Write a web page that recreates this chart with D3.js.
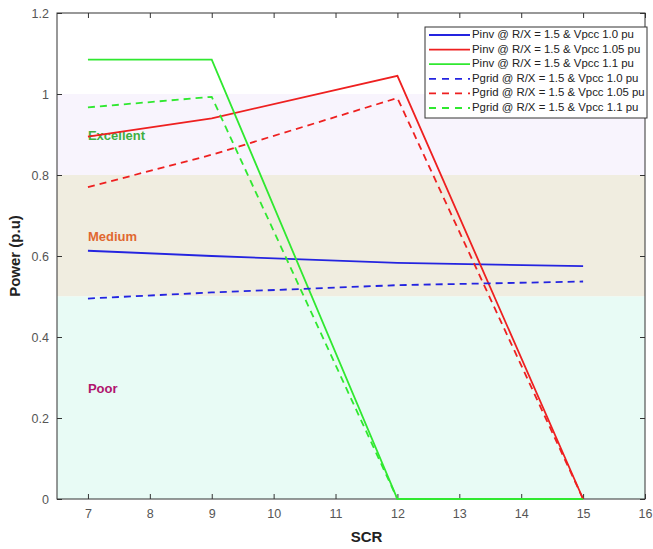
<!DOCTYPE html>
<html>
<head>
<meta charset="utf-8">
<script src="https://cdn.jsdelivr.net/npm/d3@7"></script>
<style>
  body { margin: 0; background: #fff; }
  text { font-family: Arial, "Liberation Sans", sans-serif; }
</style>
</head>
<body>
<svg id="chart"></svg>
<script>
const width = 653;
const height = 549;

// data
const scr = [7, 9, 12, 15];
const pinv10 = [0.613, 0.600, 0.583, 0.575];
const pinv105 = [0.895, 0.940, 1.045, 0];
const pinv11 = [1.085, 1.085, 0, 0];
const pgrid10 = [0.495, 0.510, 0.528, 0.537];
const pgrid105 = [0.770, 0.850, 0.990, 0];
const pgrid11 = [0.967, 0.993, 0, 0];

const seriesNames = [
  "Pinv @ R/X = 1.5 & Vpcc 1.0 pu",
  "Pinv @ R/X = 1.5 & Vpcc 1.05 pu",
  "Pinv @ R/X = 1.5 & Vpcc 1.1 pu",
  "Pgrid @ R/X = 1.5 & Vpcc 1.0 pu",
  "Pgrid @ R/X = 1.5 & Vpcc 1.05 pu",
  "Pgrid @ R/X = 1.5 & Vpcc 1.1 pu"
];
const seriesValues = [pinv10, pinv105, pinv11, pgrid10, pgrid105, pgrid11];
const seriesColors = ["#2424e0", "#ee2020", "#30e830", "#2424e0", "#ee2020", "#30e830"];
const seriesDashed = [false, false, false, true, true, true];

// quality bands
const bandNames = ["Excellent", "Medium", "Poor"];
const bandLow = [0.8, 0.5, 0];
const bandHigh = [1.0, 0.8, 0.5];
const bandFill = ["#f8f4fd", "#f0ede0", "#e8fbf5"];
const bandTextColor = ["#3fae3f", "#e06830", "#b0146e"];
const bandLabelY = [0.895, 0.645, 0.27];

const xTicks = [7, 8, 9, 10, 11, 12, 13, 14, 15, 16];
const yTicks = [0, 0.2, 0.4, 0.6, 0.8, 1, 1.2];

const svg = d3.select('#chart')
  .attr('width', width)
  .attr('height', height);

const m = { left: 57, right: 645, top: 13, bottom: 499 };

const x = d3.scaleLinear().domain([6.5, 16]).range([m.left, m.right]);
const y = d3.scaleLinear().domain([0, 1.2]).range([m.bottom, m.top]);

// background bands
bandNames.forEach((name, i) => {
  svg.append('rect')
    .attr('x', m.left)
    .attr('y', y(bandHigh[i]))
    .attr('width', m.right - m.left)
    .attr('height', y(bandLow[i]) - y(bandHigh[i]))
    .attr('fill', bandFill[i]);
  svg.append('text')
    .attr('x', x(7))
    .attr('y', y(bandLabelY[i]))
    .attr('dominant-baseline', 'middle')
    .attr('font-size', 13)
    .attr('font-weight', 'bold')
    .attr('fill', bandTextColor[i])
    .text(name);
});

// axes (MATLAB style: ticks inside, box)
const axisColor = '#333';
const xAxis = d3.axisBottom(x).tickValues(xTicks).tickSize(-5).tickPadding(10).tickFormat(d3.format('d'));
const yAxis = d3.axisLeft(y).tickValues(yTicks).tickSize(-5).tickPadding(8).tickFormat(d => d);

const gx = svg.append('g').attr('transform', `translate(0,${m.bottom})`).call(xAxis);
const gy = svg.append('g').attr('transform', `translate(${m.left},0)`).call(yAxis);
[gx, gy].forEach(g => {
  g.select('.domain').remove();
  g.selectAll('line').attr('stroke', axisColor);
  g.selectAll('text').attr('fill', '#555').attr('font-size', 12.5);
});

// top and right ticks
svg.append('g').attr('transform', `translate(0,${m.top})`)
  .call(d3.axisTop(x).tickValues(xTicks).tickSize(-5).tickFormat(''))
  .call(g => g.select('.domain').remove())
  .selectAll('line').attr('stroke', axisColor);
svg.append('g').attr('transform', `translate(${m.right},0)`)
  .call(d3.axisRight(y).tickValues(yTicks).tickSize(-5).tickFormat(''))
  .call(g => g.select('.domain').remove())
  .selectAll('line').attr('stroke', axisColor);

svg.append('rect')
  .attr('x', m.left).attr('y', m.top)
  .attr('width', m.right - m.left).attr('height', m.bottom - m.top)
  .attr('fill', 'none').attr('stroke', axisColor).attr('stroke-width', 1);

// lines
const line = d3.line()
  .x((d, i) => x(scr[i]))
  .y(d => y(d));

seriesValues.forEach((vals, i) => {
  svg.append('path')
    .datum(vals)
    .attr('d', line)
    .attr('fill', 'none')
    .attr('stroke', seriesColors[i])
    .attr('stroke-width', 1.8)
    .attr('stroke-dasharray', seriesDashed[i] ? '7,5' : null);
});

// axis labels
svg.append('text')
  .attr('x', x(11.5))
  .attr('y', 542)
  .attr('text-anchor', 'middle')
  .attr('font-size', 15)
  .attr('font-weight', 'bold')
  .attr('fill', '#222')
  .text('SCR');

svg.append('text')
  .attr('transform', `translate(20,${(m.top + m.bottom) / 2}) rotate(-90)`)
  .attr('text-anchor', 'middle')
  .attr('font-size', 15)
  .attr('font-weight', 'bold')
  .attr('fill', '#222')
  .text('Power (p.u)');

// legend
const lg = svg.append('g').attr('transform', 'translate(425,27)');
lg.append('rect')
  .attr('width', 222).attr('height', 91)
  .attr('fill', '#fff').attr('stroke', '#333');
seriesNames.forEach((name, i) => {
  const ly = 8 + i * 14.6;
  lg.append('line')
    .attr('x1', 4).attr('x2', 45)
    .attr('y1', ly).attr('y2', ly)
    .attr('stroke', seriesColors[i])
    .attr('stroke-width', 1.8)
    .attr('stroke-dasharray', seriesDashed[i] ? '7,6' : null);
  lg.append('text')
    .attr('x', 47).attr('y', ly)
    .attr('dominant-baseline', 'middle')
    .attr('font-size', 11.4)
    .attr('fill', '#222')
    .text(name);
});
</script>
</body>
</html>
